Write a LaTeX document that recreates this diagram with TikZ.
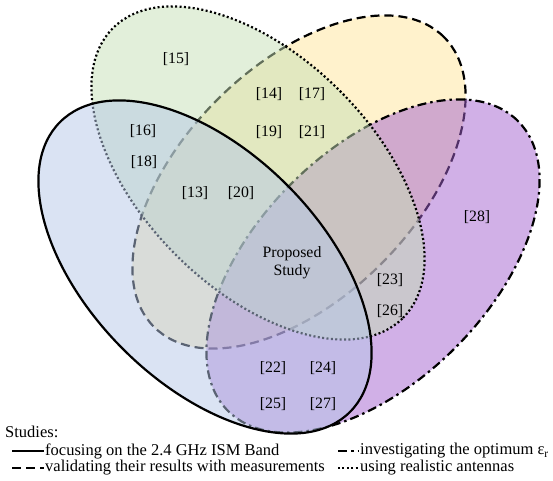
\documentclass[tikz,border=0pt]{standalone}
\usepackage{fontspec}
\setmainfont{Liberation Serif}
\definecolor{bandblue}{RGB}{181,199,231}
\definecolor{antgreen}{RGB}{197,223,181}
\definecolor{measyellow}{RGB}{255,229,153}
\definecolor{permpurple}{RGB}{163,97,207}
\tikzset{
  setarea/.style={fill opacity=0.5, draw opacity=1},
  bandline/.style={line width=2.2pt},
  measline/.style={line width=2.2pt, dash pattern=on 9pt off 5pt},
  permline/.style={line width=2.2pt, dash pattern=on 9pt off 4pt on 2.5pt off 4pt},
  antline/.style={line width=2.2pt, dash pattern=on 2pt off 2.4pt},
  lbl/.style={font=\fontsize{15.8}{18}\selectfont, inner sep=1pt},
  keytext/.style={font=\fontsize{16.5}{19}\selectfont, inner sep=1pt, anchor=west},
}
\begin{document}
\begin{tikzpicture}[x=1pt,y=1pt]
\useasboundingbox (0,0) rectangle (553,480);
% centres of the four sets
\coordinate (cband) at (205,213);
\coordinate (cant)  at (258,307);
\coordinate (cmeas) at (299,298);
\coordinate (cperm) at (373,214);
% sets, lowest first
\draw[setarea, measline, fill=measyellow] (cmeas) ellipse [x radius=205, y radius=116, rotate=45];
\draw[setarea, permline, fill=permpurple] (cperm) ellipse [x radius=205, y radius=116, rotate=45];
\draw[setarea, antline, fill=antgreen] (cant) ellipse [x radius=205, y radius=116, rotate=-45];
\draw[setarea, bandline, fill=bandblue] (cband) ellipse [x radius=205, y radius=116, rotate=-45];
% references
\node[lbl] (r15) at (176,421) {[15]};
\node[lbl] (r14) at (269,386) {[14]};
\node[lbl] (r17) at (312,386) {[17]};
\node[lbl] (r19) at (269,348) {[19]};
\node[lbl] (r21) at (312,348) {[21]};
\node[lbl] (r16) at (143,349) {[16]};
\node[lbl] (r18) at (144,318) {[18]};
\node[lbl] (r13) at (195,287) {[13]};
\node[lbl] (r20) at (241,287) {[20]};
\node[lbl] (r28) at (477,263) {[28]};
\node[lbl, align=center] (prop) at (292,217) {Proposed\\Study};
\node[lbl] (r23) at (390,200) {[23]};
\node[lbl] (r26) at (390,169) {[26]};
\node[lbl] (r22) at (273,112) {[22]};
\node[lbl] (r24) at (323,112) {[24]};
\node[lbl] (r25) at (273,76) {[25]};
\node[lbl] (r27) at (323,76) {[27]};
% legend
\node[keytext] (studies) at (4,48) {Studies:};
\coordinate (kband) at (12,29);
\coordinate (kmeas) at (12,12);
\coordinate (kperm) at (338,29);
\coordinate (kant)  at (338,12);
\node[keytext] (tband) at (44,29) {focusing on the 2.4 GHz ISM Band};
\node[keytext] (tmeas) at (44,12) {validating their results with measurements};
\node[keytext] (tperm) at (359,29) {investigating the optimum ε\textsubscript{r}};
\node[keytext] (tant)  at (359,12) {using realistic antennas};
\draw[bandline] (kband) -- (tband.west);
\draw[measline] (kmeas) -- (tmeas.west);
\draw[permline] (kperm) -- (tperm.west);
\draw[antline] (kant) -- (tant.west);
\end{tikzpicture}
\end{document}
